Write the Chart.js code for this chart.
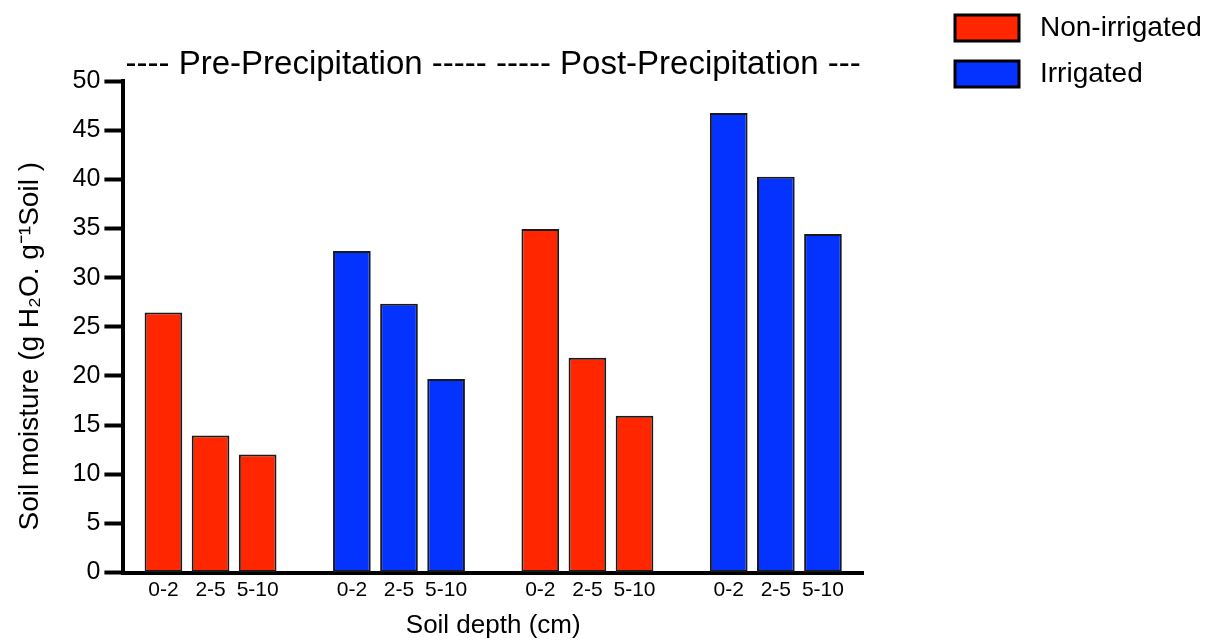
<!DOCTYPE html>
<html>
<head>
<meta charset="utf-8">
<script src="https://cdn.jsdelivr.net/npm/chart.js@4"></script>
<style>
  body { margin: 0; background: #fff; }
  #wrap { width: 1212px; height: 641px; }
</style>
</head>
<body>
<div id="wrap"><canvas id="moisture-chart"></canvas></div>
<script>
const depths = ["0-2", "2-5", "5-10"];
const periods = ["Pre-Precipitation", "Post-Precipitation"];
const treatments = ["Non-irrigated", "Irrigated"];

// soil moisture per depth
const nonIrrigatedPre = [26.45, 13.95, 12.0];
const irrigatedPre = [32.7, 27.35, 19.7];
const nonIrrigatedPost = [34.95, 21.85, 15.95];
const irrigatedPost = [46.75, 40.25, 34.45];

const yTicks = { min: 0, max: 50, step: 5 };

const FONT = "'Liberation Sans', Arial, sans-serif";

// each period holds two treatment groups of 3 depths + one empty slot
function slot(period, treatment, depth) {
  return (period * 2 + treatment) * (depths.length + 1) + depth;
}

const slots = [];
periods.forEach((p, pi) =>
  treatments.forEach((t, ti) =>
    depths.forEach((d, di) => slots.push(slot(pi, ti, di)))
  )
);

function toPoints(treatment, values) {
  return values.flatMap((vals, pi) =>
    vals.map((v, di) => ({ x: slot(pi, treatment, di), y: v }))
  );
}

function getColor(name) {
  if (name === "Non-irrigated") {
    return "#ff2600";
  }
  if (name === "Irrigated") {
    return "#0433ff";
  }
}

const datasets = [
  { label: treatments[0], data: toPoints(0, [nonIrrigatedPre, nonIrrigatedPost]) },
  { label: treatments[1], data: toPoints(1, [irrigatedPre, irrigatedPost]) },
].map((ds) => ({
  ...ds,
  backgroundColor: getColor(ds.label),
  borderColor: "#1a1a1a",
  borderWidth: 2,
  borderSkipped: false,
  barPercentage: 0.8,
  categoryPercentage: 1,
  grouped: false,
}));

// legend sits far to the right of the plot, drawn by hand
const sideLegend = {
  id: "sideLegend",
  afterDraw(chart) {
    const ctx = chart.ctx;
    ctx.save();
    chart.data.datasets.forEach((ds, i) => {
      const y = 15 + i * 46;
      ctx.fillStyle = ds.backgroundColor;
      ctx.fillRect(955, y, 64, 26);
      ctx.lineWidth = 3;
      ctx.strokeStyle = "#000";
      ctx.strokeRect(955, y, 64, 26);
      ctx.fillStyle = "#000";
      ctx.font = "28px " + FONT;
      ctx.textAlign = "left";
      ctx.textBaseline = "middle";
      ctx.fillText(ds.label, 1040, y + 13);
    });
    ctx.restore();
  },
};

new Chart(document.querySelector("#moisture-chart").getContext("2d"), {
  type: "bar",
  data: { datasets },
  plugins: [sideLegend],
  options: {
    responsive: true,
    maintainAspectRatio: false,
    animation: false,
    layout: { padding: { top: 48, right: 349, bottom: 0, left: 13 } },
    plugins: {
      legend: { display: false },
      tooltip: { enabled: false },
      title: {
        display: true,
        fullSize: false,
        text: "---- " + periods[0] + " ----- ----- " + periods[1] + " ---",
        color: "#000",
        font: { family: FONT, size: 33, weight: "normal", lineHeight: 1 },
        padding: 0,
      },
    },
    scales: {
      x: {
        type: "linear",
        offset: false,
        min: -0.85,
        max: slots[slots.length - 1] + 0.85,
        afterBuildTicks: (scale) => {
          scale.ticks = slots.map((v) => ({ value: v }));
        },
        ticks: {
          autoSkip: false,
          maxRotation: 0,
          padding: 5,
          color: "#000",
          font: { family: FONT, size: 21 },
          callback: (v) => depths[v % (depths.length + 1)],
        },
        grid: { display: false, drawTicks: false },
        border: { display: true, color: "#000", width: 4 },
        title: {
          display: true,
          text: "Soil depth (cm)",
          color: "#000",
          font: { family: FONT, size: 26 },
          padding: { top: 2, bottom: 0 },
        },
      },
      y: {
        min: yTicks.min,
        max: yTicks.max,
        ticks: {
          stepSize: yTicks.step,
          padding: 4,
          color: "#000",
          font: { family: FONT, size: 25 },
        },
        grid: {
          drawOnChartArea: false,
          drawTicks: true,
          tickLength: 19,
          tickWidth: 4,
          tickColor: "#000",
        },
        border: { display: true, color: "#000", width: 4 },
        title: {
          display: true,
          text: "Soil moisture (g H\u2082O. g\u207B\u00B9Soil )     ",
          color: "#000",
          font: { family: FONT, size: 28 },
          padding: { top: 0, bottom: 22 },
        },
      },
    },
  },
});
</script>
</body>
</html>
